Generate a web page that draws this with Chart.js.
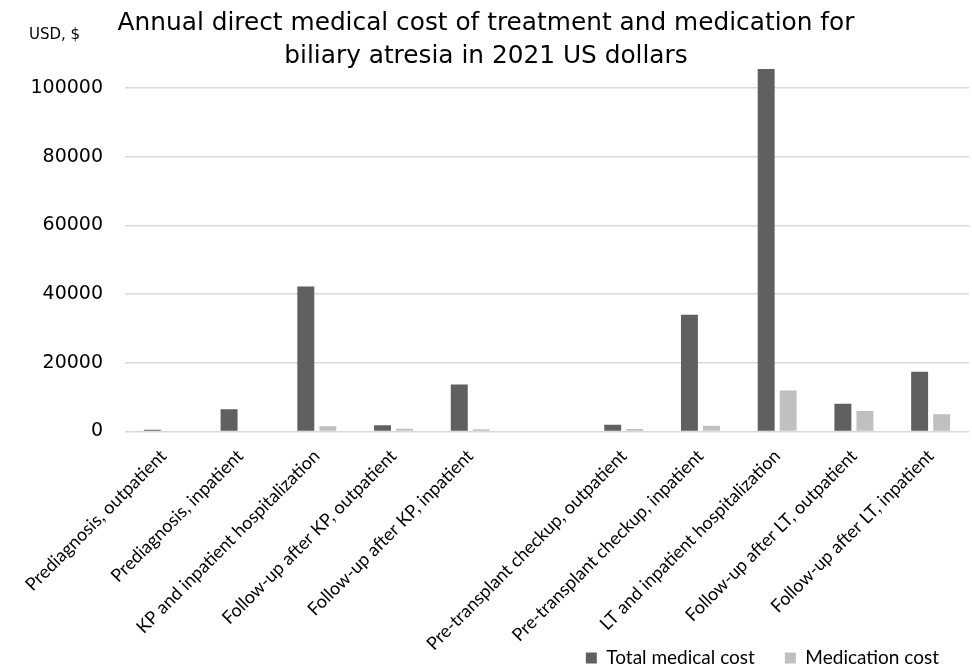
<!DOCTYPE html>
<html>
<head>
<meta charset="utf-8">
<script src="https://cdn.jsdelivr.net/npm/chart.js@4.4.1/dist/chart.umd.min.js"></script>
<style>
  html, body { margin: 0; padding: 0; background: #ffffff; }
  #wrap { width: 972px; height: 669px; position: relative; }
</style>
</head>
<body>
<div id="wrap"><canvas id="chart" width="972" height="669"></canvas></div>
<script>
// Treatment stages (the empty entry separates the KP and transplant phases)
const categories = [
  'Prediagnosis, outpatient',
  'Prediagnosis, inpatient',
  'KP and inpatient hospitalization',
  'Follow-up after KP, outpatient',
  'Follow-up after KP, inpatient',
  '',
  'Pre-transplant checkup, outpatient',
  'Pre-transplant checkup, inpatient',
  'LT and inpatient hospitalization',
  'Follow-up after LT, outpatient',
  'Follow-up after LT, inpatient'
];

// Annual cost per stage, USD (2021)
const totalMedicalCost = [500, 6450, 42200, 1800, 13700, null, 1970, 34000, 105500, 8070, 17360];
const medicationCost   = [null, null, 1500, 820, 640, null, 730, 1690, 11960, 5950, 4990];

const seriesNames = ['Total medical cost', 'Medication cost'];
const yTicks = [0, 20000, 40000, 60000, 80000, 100000];
const yMax = 105500;

const titleLines = ['Annual direct medical cost of treatment and medication for',
                    'biliary atresia in 2021 US dollars'];
const unitLabel = 'USD, $';

// Unit caption above the value axis
const unitCaption = {
  id: 'unitCaption',
  afterDraw(chart) {
    const ctx = chart.ctx;
    ctx.save();
    ctx.font = '15px "DejaVu Sans"';
    ctx.fillStyle = '#000000';
    ctx.textAlign = 'left';
    ctx.textBaseline = 'middle';
    ctx.fillText(unitLabel, 29, 35);
    ctx.restore();
  }
};

// Center the title on the whole canvas and pull the legend row up
// from below the (negatively padded) layout area
const blockPlacement = {
  id: 'blockPlacement',
  afterLayout(chart) {
    const tb = chart.titleBlock;
    if (tb) {
      tb.left = 0;
      tb.right = chart.width;
    }
    const lg = chart.legend;
    if (lg) {
      lg.top -= 31.5;
      lg.bottom -= 31.5;
    }
  }
};

new Chart(document.getElementById('chart'), {
  type: 'bar',
  data: {
    labels: categories,
    datasets: [
      {
        label: seriesNames[0],
        data: totalMedicalCost,
        backgroundColor: '#606060',
        borderWidth: 0,
        barPercentage: 0.77,
        categoryPercentage: 0.574
      },
      {
        label: seriesNames[1],
        data: medicationCost,
        backgroundColor: '#c0c0c0',
        borderWidth: 0,
        barPercentage: 0.77,
        categoryPercentage: 0.574
      }
    ]
  },
  options: {
    responsive: false,
    animation: false,
    devicePixelRatio: 1,
    layout: { padding: { left: 30, right: 3, top: 0, bottom: -40 } },
    plugins: {
      title: {
        display: true,
        text: titleLines,
        color: '#000000',
        font: { family: '"DejaVu Sans"', size: 24.8, weight: 'normal', lineHeight: 1.33 },
        padding: { top: 7, bottom: -4 }
      },
      legend: {
        display: true,
        position: 'bottom',
        align: 'end',
        labels: {
          color: '#000000',
          font: { family: 'Lato', size: 19 },
          boxWidth: 11,
          boxHeight: 11,
          padding: 30
        }
      },
      tooltip: { enabled: false }
    },
    scales: {
      x: {
        grid: { display: false, drawTicks: false },
        border: { display: false },
        afterFit(axis) {
          // rotated labels may hang past the plot's left edge
          axis.height = 218.5;
          axis.paddingLeft = 0;
          axis.paddingRight = 0;
          if (axis._margins) {
            axis._margins.left = 0;
            axis._margins.right = 0;
          }
        },
        ticks: {
          color: '#000000',
          font: { family: 'Lato', size: 18 },
          minRotation: 45,
          maxRotation: 45,
          autoSkip: false,
          padding: 14
        }
      },
      y: {
        min: 0,
        max: yMax,
        grid: { color: '#d9d9d9', lineWidth: 1.5, drawTicks: false },
        border: { display: false },
        afterBuildTicks(axis) {
          axis.ticks = yTicks.map(v => ({ value: v }));
        },
        afterFit(axis) { axis.width = 95; },
        ticks: {
          color: '#000000',
          font: { family: '"DejaVu Sans"', size: 19 },
          padding: 22,
          callback: v => String(v)
        }
      }
    }
  },
  plugins: [unitCaption, blockPlacement]
});
</script>
</body>
</html>
